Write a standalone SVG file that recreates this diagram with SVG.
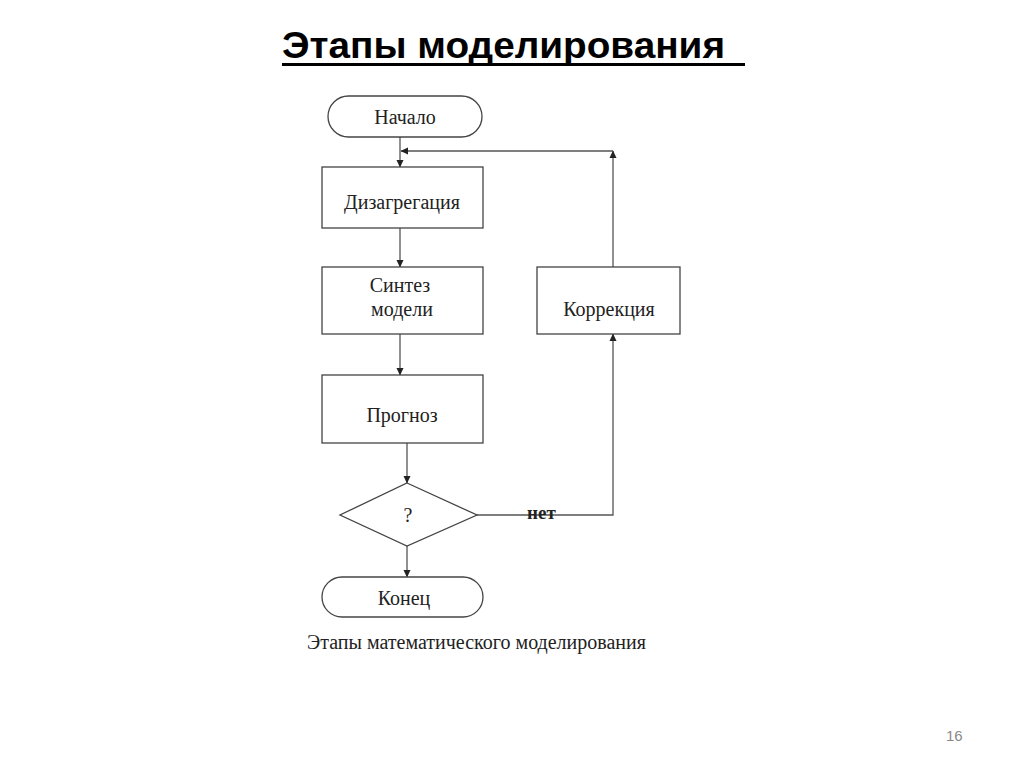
<svg xmlns="http://www.w3.org/2000/svg" width="1024" height="768" viewBox="0 0 1024 768">
<defs>
<marker id="arr" markerWidth="8" markerHeight="8" refX="7" refY="4" orient="auto" markerUnits="userSpaceOnUse">
<path d="M0,0.5 L7.5,4 L0,7.5 Z" fill="#222"/>
</marker>
<style>
.box{fill:#fff;stroke:#444;stroke-width:1.3}
.ln{fill:none;stroke:#555;stroke-width:1.3}
.t{font-family:"Liberation Serif","Times New Roman",serif;font-size:20px;fill:#222;text-anchor:middle}
</style>
</defs>
<rect width="1024" height="768" fill="#fff"/>
<g id="title">
<text x="282" y="58" font-family="'Liberation Sans',Arial,sans-serif" font-weight="bold" font-size="36" fill="#000" textLength="443" lengthAdjust="spacingAndGlyphs">Этапы моделирования</text>
<rect x="282" y="63" width="463" height="3" fill="#000"/>
</g>
<g id="connectors">
<line class="ln" x1="400" y1="136" x2="400" y2="167" marker-end="url(#arr)"/>
<line class="ln" x1="613" y1="151" x2="401" y2="151" marker-end="url(#arr)"/>
<line class="ln" x1="613" y1="267" x2="613" y2="151" marker-end="url(#arr)"/>
<line class="ln" x1="400" y1="228" x2="400" y2="267" marker-end="url(#arr)"/>
<line class="ln" x1="400" y1="334" x2="400" y2="375" marker-end="url(#arr)"/>
<line class="ln" x1="407" y1="443" x2="407" y2="483" marker-end="url(#arr)"/>
<line class="ln" x1="407" y1="546" x2="407" y2="577" marker-end="url(#arr)"/>
<polyline class="ln" points="477,515 613,515 613,334" marker-end="url(#arr)"/>
<text x="527" y="519" font-family="'Liberation Serif','Times New Roman',serif" font-size="19" font-weight="bold" fill="#222">нет</text>
</g>
<g id="start">
<rect class="box" x="328" y="96" width="154" height="41" rx="20.5"/>
<text class="t" x="405" y="124">Начало</text>
</g>
<g id="disaggregation">
<rect class="box" x="322" y="167" width="161" height="61"/>
<text class="t" x="402" y="209">Дизагрегация</text>
</g>
<g id="synthesis">
<rect class="box" x="322" y="267" width="161" height="67"/>
<text class="t" x="400" y="292">Синтез</text>
<text class="t" x="402" y="316">модели</text>
</g>
<g id="forecast">
<rect class="box" x="322" y="375" width="161" height="68"/>
<text class="t" x="402" y="422">Прогноз</text>
</g>
<g id="decision">
<polygon class="box" points="407,483 477,515 407,546 340,515"/>
<text class="t" x="408" y="522">?</text>
</g>
<g id="end">
<rect class="box" x="322" y="577" width="161" height="40" rx="20"/>
<text class="t" x="404" y="605">Конец</text>
</g>
<g id="correction">
<rect class="box" x="537" y="267" width="143" height="67"/>
<text class="t" x="609" y="316">Коррекция</text>
</g>
<text x="307" y="649" font-family="'Liberation Serif','Times New Roman',serif" font-size="20" fill="#222">Этапы математического моделирования</text>
<text x="946" y="741" font-family="'Liberation Sans',Arial,sans-serif" font-size="15" fill="#888">16</text>
</svg>
